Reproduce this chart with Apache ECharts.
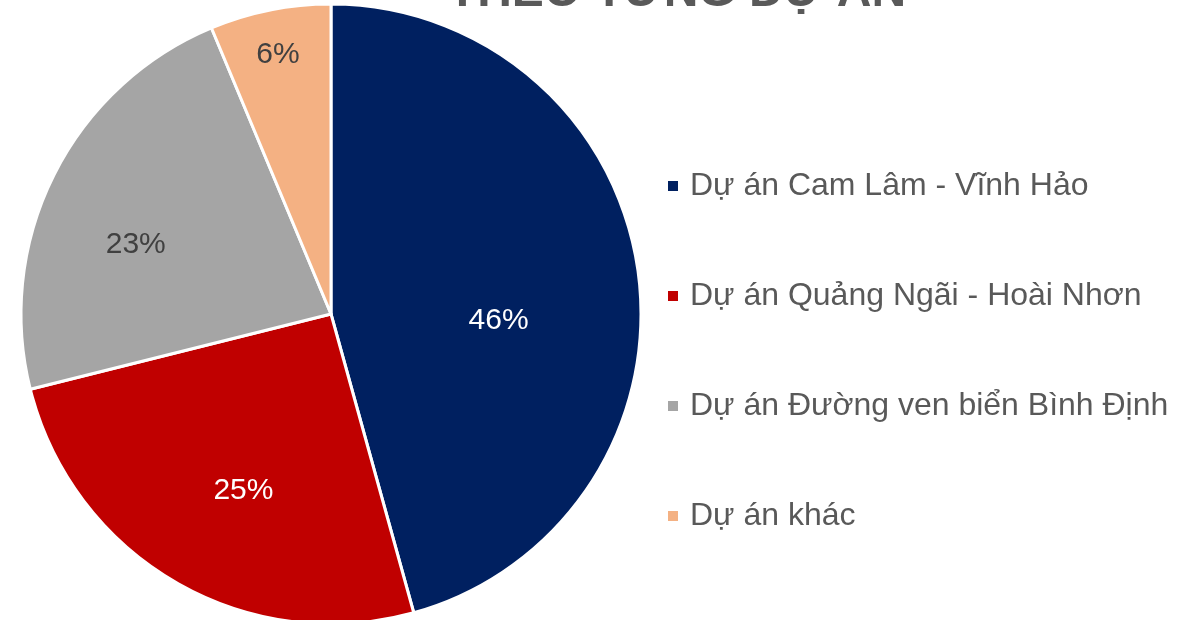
<!DOCTYPE html>
<html lang="vi">
<head>
    <meta charset="UTF-8">
    <title>Theo từng dự án</title>
    <script src="https://cdn.jsdelivr.net/npm/echarts@6.0.0/dist/echarts.min.js"></script>
    <style>
        html, body { margin: 0; padding: 0; background: #fff; }
        #chart { width: 1192px; height: 620px; }
    </style>
</head>
<body>
    <div id="chart"></div>
    <script>
        // dữ liệu
        const projects = [
            'Dự án Cam Lâm - Vĩnh Hảo',
            'Dự án Quảng Ngãi - Hoài Nhơn',
            'Dự án Đường ven biển Bình Định',
            'Dự án khác'
        ];
        const shares = [45.7, 25.4, 22.6, 6.3];
        const colors = ['#002060', '#C00000', '#A5A5A5', '#F4B183'];
        const labelColors = ['#ffffff', '#ffffff', '#404040', '#404040'];
        // dịch nhãn như bản gốc (Excel đặt nhãn "best fit")
        const labelOffsets = [[11, 28], [-8, 40], [-54, 2], [-22, -104]];

        const chart = echarts.init(document.getElementById('chart'));

        chart.setOption({
            animation: false,
            title: {
                text: 'THEO TỪNG DỰ ÁN',
                left: 672,
                textAlign: 'center',
                top: -36,
                textStyle: {
                    fontFamily: 'Liberation Sans',
                    fontSize: 48,
                    fontWeight: 'bold',
                    color: '#595959'
                }
            },
            legend: {
                orient: 'vertical',
                left: 666,
                top: 170,
                padding: 0,
                itemWidth: 12,
                itemHeight: 12,
                itemGap: 78,
                icon: 'rect',
                data: projects,
                textStyle: {
                    fontFamily: 'Liberation Sans',
                    fontSize: 32,
                    lineHeight: 32,
                    color: '#595959',
                    padding: [0, 0, 0, 6]
                }
            },
            series: [{
                type: 'pie',
                center: [331, 314],
                radius: 310,
                startAngle: 90,
                clockwise: true,
                avoidLabelOverlap: false,
                itemStyle: {
                    borderColor: '#ffffff',
                    borderWidth: 3
                },
                label: {
                    position: 'inner',
                    formatter: p => Math.round(p.percent) + '%',
                    fontFamily: 'Liberation Sans',
                    fontSize: 30
                },
                labelLine: { show: false },
                data: projects.map((name, i) => ({
                    name: name,
                    value: shares[i],
                    itemStyle: { color: colors[i] },
                    label: { color: labelColors[i], offset: labelOffsets[i] }
                }))
            }]
        });

        window.addEventListener('resize', function() {
            chart.resize();
        });
    </script>
</body>
</html>
